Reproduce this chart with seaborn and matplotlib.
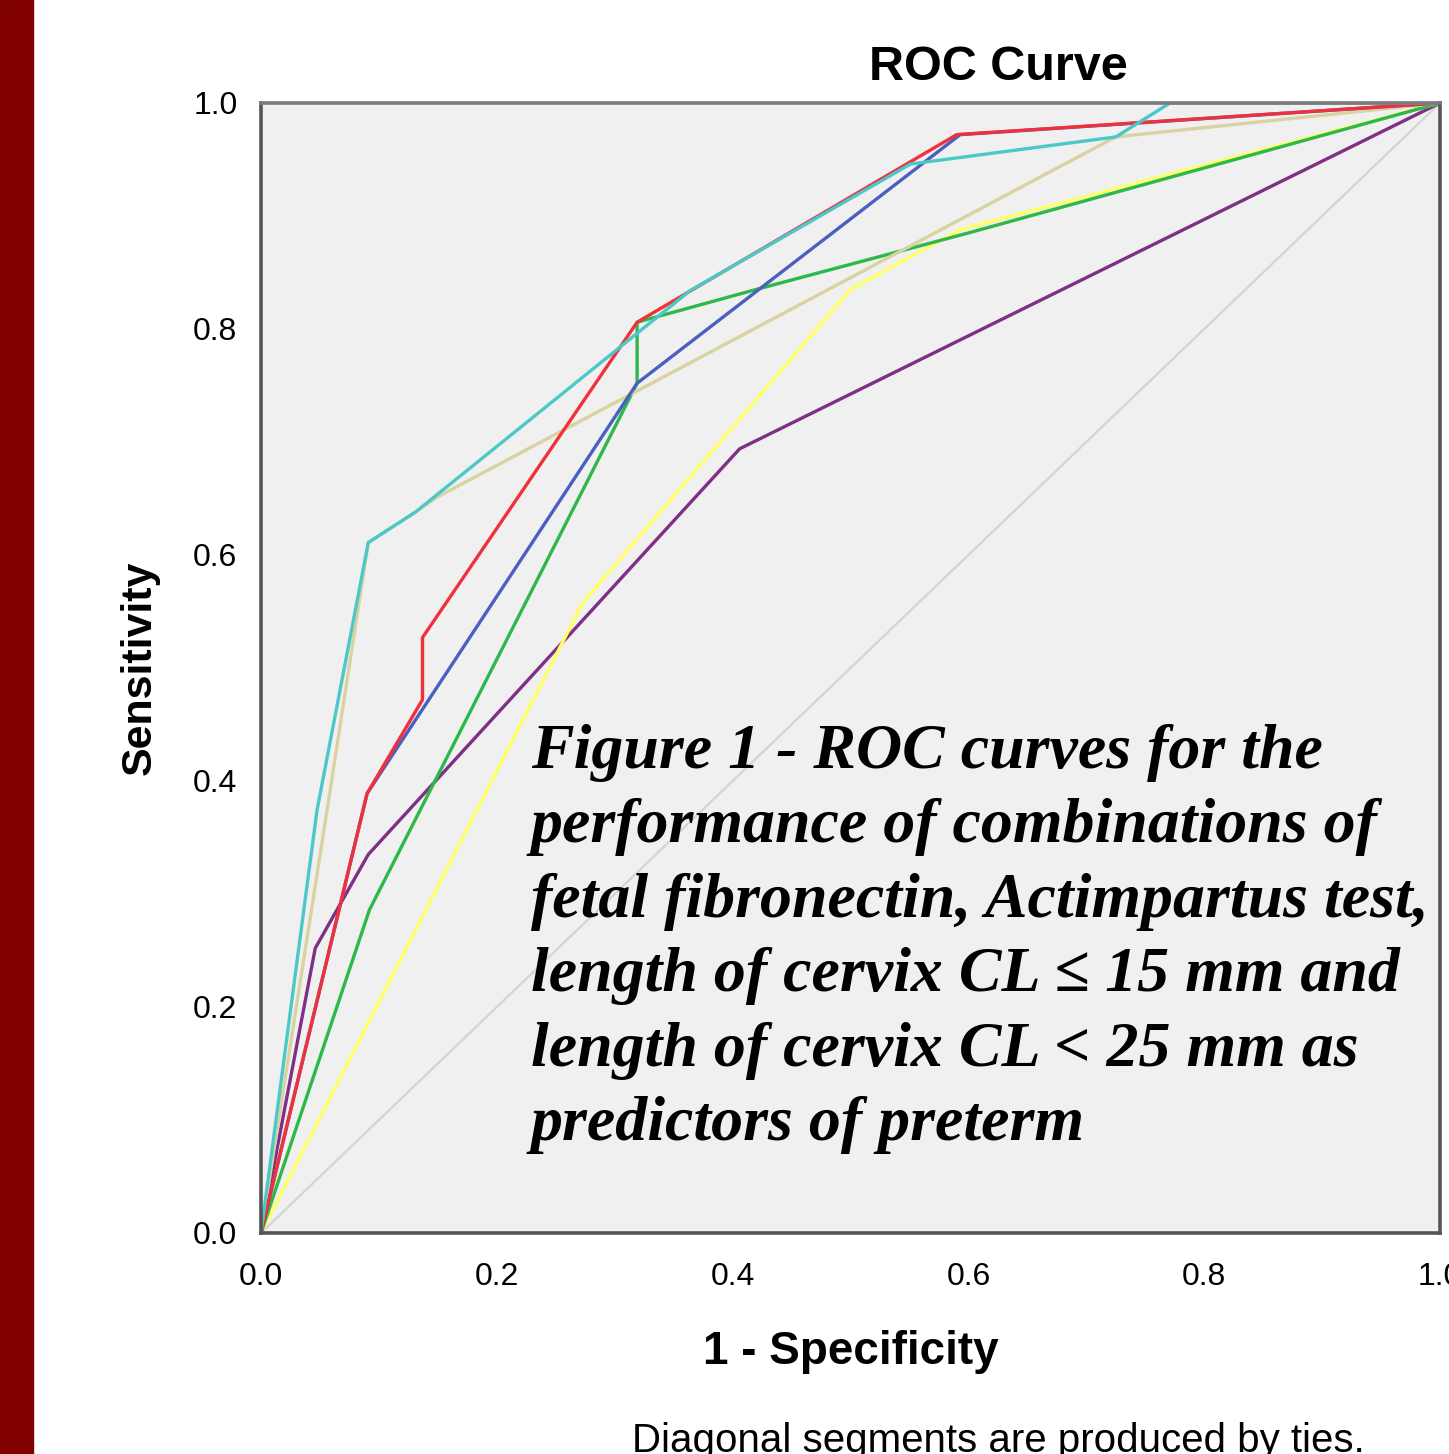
import matplotlib
matplotlib.use("Agg")
import numpy as np
import pandas as pd
import matplotlib.pyplot as plt
import seaborn as sns
from matplotlib.patches import Rectangle

sns.set_style("white")
plt.rcParams['font.family'] = ['Liberation Sans', 'DejaVu Sans']
plt.rcParams['text.color'] = 'black'
plt.rcParams['axes.labelcolor'] = 'black'

# ---- ROC points (1 - specificity, sensitivity) ----
ref_x = [0.0, 1.0]
ref_y = [0.0, 1.0]
purple_x = [0.0, 0.046, 0.091, 0.406, 1.0]
purple_y = [0.0, 0.252, 0.335, 0.694, 1.0]
yellow_x = [0.0, 0.273, 0.500, 0.593, 1.0]
yellow_y = [0.0, 0.558, 0.835, 0.888, 1.0]
green_x = [0.0, 0.092, 0.319, 0.319, 0.420, 0.600, 1.0]
green_y = [0.0, 0.286, 0.752, 0.806, 0.835, 0.885, 1.0]
tan_x = [0.0, 0.056, 0.091, 0.131, 0.149, 0.725, 1.0]
tan_y = [0.0, 0.374, 0.611, 0.638, 0.651, 0.970, 1.0]
blue_x = [0.0, 0.090, 0.319, 0.593, 1.0]
blue_y = [0.0, 0.389, 0.752, 0.972, 1.0]
red_x = [0.0, 0.090, 0.137, 0.137, 0.319, 0.590, 1.0]
red_y = [0.0, 0.389, 0.472, 0.527, 0.806, 0.972, 1.0]
cyan_x = [0.0, 0.0475, 0.091, 0.131, 0.364, 0.551, 0.725, 0.771, 1.0]
cyan_y = [0.0, 0.374, 0.611, 0.638, 0.834, 0.946, 0.970, 1.0, 1.0]

ticks = [0.0, 0.2, 0.4, 0.6, 0.8, 1.0]
tick_labels = ["0.0", "0.2", "0.4", "0.6", "0.8", "1.0"]

caption_lines = [
    "Figure 1 - ROC curves for the",
    "performance of combinations of",
    "fetal fibronectin, Actimpartus test,",
    "length of cervix CL \u2264 15 mm and",
    "length of cervix CL < 25 mm as",
    "predictors of preterm",
]

curves = {
    "Reference": (ref_x, ref_y, "#d4d4d4", 1.6),
    "purple": (purple_x, purple_y, "#7f2f86", 2.4),
    "yellow": (yellow_x, yellow_y, "#ffff66", 2.4),
    "green": (green_x, green_y, "#2db84a", 2.4),
    "tan": (tan_x, tan_y, "#d8d3a0", 2.4),
    "blue": (blue_x, blue_y, "#4a5fbf", 2.4),
    "red": (red_x, red_y, "#f0313c", 2.4),
    "cyan": (cyan_x, cyan_y, "#4cc8c8", 2.4),
}

fig = plt.figure(figsize=(14.49, 14.54), dpi=100)
ax = fig.add_axes([261 / 1449, 1 - 1233 / 1454, 1179 / 1449, 1130 / 1454])
ax.set_facecolor("#f0f0f0")

for name, (xs, ys, col, lw) in curves.items():
    d = pd.DataFrame({"fpr": xs, "tpr": ys})
    sns.lineplot(data=d, x="fpr", y="tpr", sort=False, estimator=None,
                 color=col, linewidth=lw, ax=ax)

ax.set_xlim(0, 1)
ax.set_ylim(0, 1)
ax.set_xticks(ticks)
ax.set_xticklabels(tick_labels)
ax.set_yticks(ticks)
ax.set_yticklabels(tick_labels)
ax.tick_params(direction="out", length=14, width=3, color="#444444",
               labelsize=23, labelcolor="black")
ax.tick_params(axis="x", pad=7)
ax.tick_params(axis="y", pad=3)

for side in ["left", "bottom", "right"]:
    ax.spines[side].set_color("#555555")
    ax.spines[side].set_linewidth(2.6)
ax.spines["top"].set_color("#7a7a7a")
ax.spines["top"].set_linewidth(2.6)

ax.set_xlabel("1 - Specificity", fontsize=33, fontweight="bold", color="black")
ax.set_ylabel("Sensitivity", fontsize=31, fontweight="bold", color="black")
ax.xaxis.set_label_coords(0.5, -0.086)
ax.yaxis.set_label_coords(-0.086, 0.5)

# caption overlay inside the plot
base = (1233 - 768) / 1130
step = 74.4 / 1130
for i, line in enumerate(caption_lines):
    ax.text(0.229, base - i * step, line, transform=ax.transAxes,
            fontsize=46, fontweight="bold", fontstyle="italic",
            family=["Liberation Serif", "DejaVu Serif"],
            va="baseline", ha="left", color="black")

fig.text(998 / 1449, 1 - 67 / 1454, "ROC Curve", ha="center", va="center",
         fontsize=35, fontweight="bold", color="black")
fig.text(632 / 1449, 1 - 1452 / 1454, "Diagonal segments are produced by ties.",
         ha="left", va="baseline", fontsize=29, color="black")

fig.add_artist(Rectangle((0, 0), 33 / 1449, 1, transform=fig.transFigure,
                         color="#800000", zorder=0))

fig.savefig("out.png", dpi=100)
